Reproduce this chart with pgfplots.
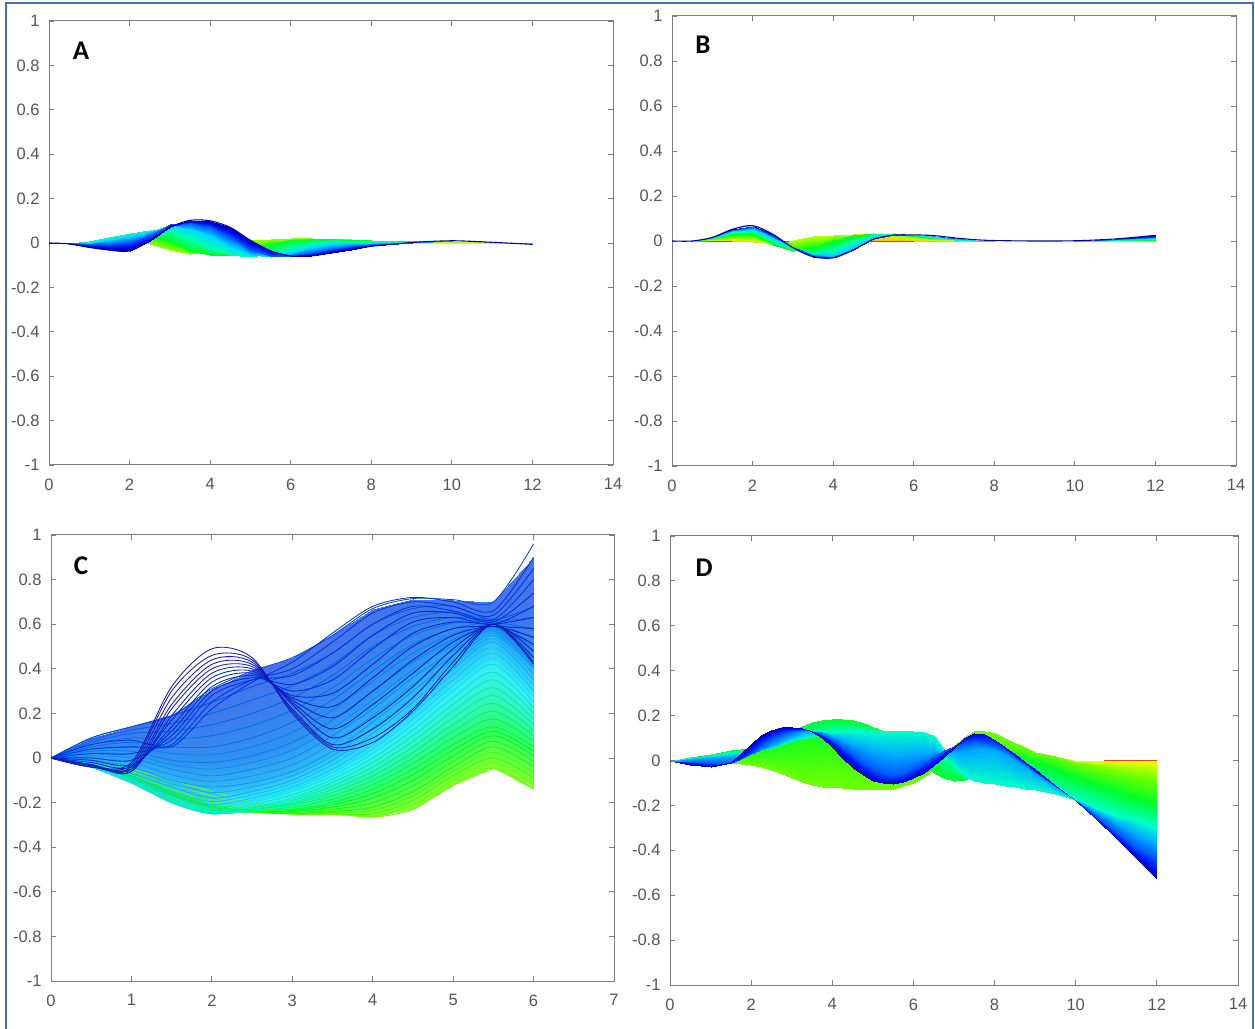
\documentclass[border=0pt]{standalone}
\usepackage{fontspec}
\setmainfont{Liberation Sans}
\newfontfamily\lab{Carlito}
\usepackage{pgfplots}
\pgfplotsset{compat=1.18}
\definecolor{ax}{RGB}{125,125,125}
\definecolor{tl}{RGB}{85,85,85}
\definecolor{g1}{RGB}{110,255,0}
\definecolor{g2}{RGB}{70,255,0}
\definecolor{g3}{RGB}{30,250,0}
\definecolor{g4}{RGB}{0,250,30}
\definecolor{g5}{RGB}{0,250,80}
\definecolor{g6}{RGB}{0,245,130}
\definecolor{c1}{RGB}{0,240,170}
\definecolor{c2}{RGB}{0,235,205}
\definecolor{c3}{RGB}{0,230,240}
\definecolor{c4}{RGB}{0,205,245}
\definecolor{c5}{RGB}{0,180,245}
\definecolor{l1}{RGB}{0,160,240}
\definecolor{l2}{RGB}{0,145,240}
\definecolor{l3}{RGB}{0,130,240}
\definecolor{l4}{RGB}{0,115,235}
\definecolor{l5}{RGB}{0,100,235}
\definecolor{l6}{RGB}{0,85,230}
\definecolor{l7}{RGB}{0,70,230}
\definecolor{b1}{RGB}{0,50,225}
\definecolor{b2}{RGB}{0,40,215}
\definecolor{b3}{RGB}{10,30,200}
\definecolor{b4}{RGB}{20,25,185}
\pgfplotsset{
  pan/.style={scale only axis, anchor=south west, axis line style={ax,line width=1pt},
    tick style={ax,line width=.8pt}, tick align=inside, major tick length=5pt,
    xmin=0, ymin=-1, ymax=1,
    ytick={-1,-0.8,-0.6,-0.4,-0.2,0,0.2,0.4,0.6,0.8,1},
    yticklabels={-1,-0.8,-0.6,-0.4,-0.2,0,0.2,0.4,0.6,0.8,1},
    tick label style={font=\fontsize{16.5}{17}\selectfont, text=tl},
    xticklabel style={yshift=-10pt}, yticklabel style={xshift=-6pt}},
  x14/.style={xmax=14, xtick={0,2,4,6,8,10,12,14}, xticklabels={0,2,4,6,8,10,12,14}},
  x7/.style={xmax=7, xtick={0,1,2,3,4,5,6,7}, xticklabels={0,1,2,3,4,5,6,7}},
  cl/.style={line width=.85pt, smooth, no markers},
  sf/.style={surf, shader=interp, no markers},
  lastl/.style={line width=1.1pt, smooth, no markers, color={rgb,255:red,0;green,0;blue,165}},
}
\begin{document}
\begin{tikzpicture}[x=1pt,y=1pt]
\path[use as bounding box] (0,0) rectangle (1255,1028);
\draw[line width=2pt,color={rgb,255:red,68;green,114;blue,180}] (6,-5) -- (6,1025) -- (1253,1025) -- (1253,-5);

% ---------- A
\begin{axis}[pan,x14,at={(49pt,563pt)},width=564pt,height=444pt,
  colormap={fa}{rgb255=(255,60,0) rgb255=(230,255,0) rgb255=(150,255,0) rgb255=(0,255,30) rgb255=(0,255,170) rgb255=(0,220,255) rgb255=(0,90,255) rgb255=(0,0,230) rgb255=(0,0,170)},
  point meta min=0, point meta max=8]
\addplot[sf, mesh/rows=9, mesh/cols=21, point meta={floor(\coordindex/21)}] table[row sep=\\,header=false]{
0 0\\.5 0\\1 0\\1.5 0\\2 0\\2.5 0\\3 0\\3.5 0\\4 0\\4.5 0\\5 0\\5.5 0\\6 0\\6.5 0\\7 0\\7.5 0\\8 0\\9 0\\10 0\\11 0\\12 0\\
0 0\\.5 0\\1 0\\1.5 .001\\2 .002\\2.5 0\\3 -.012\\3.5 -.02\\4 -.025\\4.5 -.02\\5 -.005\\5.5 .005\\6 .008\\6.5 .007\\7 .006\\7.5 .005\\8 .004\\9 .002\\10 .001\\11 .001\\12 0\\
0 0\\.5 0\\1 .002\\1.5 .006\\2 .006\\2.5 -.003\\3 -.03\\3.5 -.05\\4 -.04\\4.5 -.01\\5 .012\\5.5 .02\\6 .022\\6.5 .022\\7 .02\\7.5 .017\\8 .014\\9 .01\\10 .008\\11 .004\\12 0\\
0 0\\.5 .001\\1 .006\\1.5 .02\\2 .035\\2.5 .04\\3 .01\\3.5 -.035\\4 -.055\\4.5 -.055\\5 -.03\\5.5 -.005\\6 .015\\6.5 .02\\7 .018\\7.5 .015\\8 .012\\9 .008\\10 .008\\11 .004\\12 -.001\\
0 0\\.5 .002\\1 .008\\1.5 .025\\2 .045\\2.5 .06\\3 .055\\3.5 .02\\4 -.025\\4.5 -.055\\5 -.065\\5.5 -.05\\6 -.02\\6.5 0\\7 .01\\7.5 .01\\8 .008\\9 .006\\10 .008\\11 .004\\12 -.002\\
0 0\\.5 .001\\1 .002\\1.5 .012\\2 .03\\2.5 .055\\3 .08\\3.5 .065\\4 .03\\4.5 -.02\\5 -.055\\5.5 -.065\\6 -.045\\6.5 -.02\\7 -.005\\7.5 0\\8 .002\\9 .004\\10 .009\\11 .004\\12 -.003\\
0 0\\.5 -.001\\1 -.006\\1.5 -.005\\2 .005\\2.5 .035\\3 .085\\3.5 .09\\4 .07\\4.5 .025\\5 -.03\\5.5 -.058\\6 -.06\\6.5 -.045\\7 -.025\\7.5 -.012\\8 -.005\\9 .002\\10 .01\\11 .004\\12 -.004\\
0 0\\.5 -.003\\1 -.015\\1.5 -.022\\2 -.02\\2.5 .012\\3 .08\\3.5 .1\\4 .09\\4.5 .055\\5 .002\\5.5 -.04\\6 -.058\\6.5 -.055\\7 -.038\\7.5 -.022\\8 -.012\\9 .002\\10 .01\\11 .003\\12 -.005\\
0 0\\.5 -.004\\1 -.02\\1.5 -.032\\2 -.036\\2.5 .01\\3 .07\\3.5 .102\\4 .1\\4.5 .07\\5 .012\\5.5 -.035\\6 -.058\\6.5 -.058\\7 -.045\\7.5 -.03\\8 -.015\\9 .002\\10 .01\\11 .003\\12 -.006\\
};
\addplot[lastl] table[row sep=\\,header=false]{0 0\\.5 -.004\\1 -.02\\1.5 -.032\\2 -.036\\2.5 .01\\3 .07\\3.5 .102\\4 .1\\4.5 .07\\5 .012\\5.5 -.035\\6 -.058\\6.5 -.058\\7 -.045\\7.5 -.03\\8 -.015\\9 .002\\10 .01\\11 .003\\12 -.006\\};
\end{axis}
\node[font=\lab\bfseries\fontsize{27}{27}\selectfont,text=black] at (81,977) {A};

% ---------- B
\begin{axis}[pan,x14,at={(672pt,562pt)},width=564pt,height=450pt,
  colormap={fb}{rgb255=(255,40,0) rgb255=(255,200,0) rgb255=(190,255,0) rgb255=(0,255,20) rgb255=(0,255,170) rgb255=(0,210,255) rgb255=(0,70,255) rgb255=(0,0,190)},
  point meta min=0, point meta max=7]
\addplot[sf, mesh/rows=8, mesh/cols=21, point meta={floor(\coordindex/21)}] table[row sep=\\,header=false]{
0 0\\.5 0\\1 0\\1.5 0\\2 0\\2.5 0\\3 0\\3.5 0\\4 0\\4.5 0\\5 0\\5.5 0\\6 0\\6.5 0\\7 0\\7.5 0\\8 0\\9 0\\10 0\\11 0\\12 0\\
0 0\\.5 0\\1 .003\\1.5 .002\\2 -.003\\2.5 -.01\\3 -.006\\3.5 .004\\4 .008\\4.5 .008\\5 .006\\5.5 .003\\6 .001\\6.5 .001\\7 .001\\7.5 0\\8 0\\9 0\\10 0\\11 0\\12 0\\
0 0\\.5 0\\1 .006\\1.5 .01\\2 .004\\2.5 -.018\\3 .004\\3.5 .02\\4 .028\\4.5 .03\\5 .03\\5.5 .02\\6 .012\\6.5 .006\\7 .004\\7.5 .002\\8 .001\\9 0\\10 0\\11 .001\\12 .002\\
0 0\\.5 0\\1 .012\\1.5 .03\\2 .03\\2.5 -.02\\3 -.045\\3.5 -.03\\4 0\\4.5 .025\\5 .035\\5.5 .03\\6 .02\\6.5 .012\\7 .005\\7.5 .002\\8 0\\9 0\\10 .001\\11 .003\\12 .005\\
0 0\\.5 0\\1 .014\\1.5 .04\\2 .045\\2.5 0\\3 -.035\\3.5 -.058\\4 -.04\\4.5 0\\5 .03\\5.5 .035\\6 .025\\6.5 .015\\7 .006\\7.5 .001\\8 -.001\\9 0\\10 .001\\11 .004\\12 .008\\
0 0\\.5 0\\1 .015\\1.5 .045\\2 .055\\2.5 .015\\3 -.03\\3.5 -.06\\4 -.065\\4.5 -.03\\5 .015\\5.5 .032\\6 .028\\6.5 .02\\7 .009\\7.5 .003\\8 0\\9 0\\10 .002\\11 .006\\12 .012\\
0 0\\.5 0\\1 .016\\1.5 .05\\2 .065\\2.5 .022\\3 -.028\\3.5 -.066\\4 -.07\\4.5 -.035\\5 .008\\5.5 .028\\6 .028\\6.5 .023\\7 .012\\7.5 .004\\8 .001\\9 0\\10 .002\\11 .008\\12 .018\\
0 0\\.5 0\\1 .016\\1.5 .052\\2 .068\\2.5 .03\\3 -.03\\3.5 -.07\\4 -.075\\4.5 -.04\\5 .008\\5.5 .026\\6 .027\\6.5 .024\\7 .014\\7.5 .006\\8 .002\\9 0\\10 .001\\11 .009\\12 .025\\
};
\addplot[lastl] table[row sep=\\,header=false]{0 0\\.5 0\\1 .016\\1.5 .052\\2 .068\\2.5 .03\\3 -.03\\3.5 -.07\\4 -.075\\4.5 -.04\\5 .008\\5.5 .026\\6 .027\\6.5 .024\\7 .014\\7.5 .006\\8 .002\\9 0\\10 .001\\11 .009\\12 .025\\};
\end{axis}
\node[font=\lab\bfseries\fontsize{27}{27}\selectfont,text=black] at (703,983) {B};

% ---------- C
\begin{axis}[pan,x7,at={(51pt,47pt)},width=563pt,height=446pt,
  colormap={fc}{rgb255=(130,255,50) rgb255=(50,250,100) rgb255=(50,245,185) rgb255=(60,235,245) rgb255=(50,180,245) rgb255=(50,145,240) rgb255=(60,125,235) rgb255=(70,115,235)},
  point meta min=0, point meta max=7]
\addplot[sf, mesh/rows=8, mesh/cols=13, point meta={floor(\coordindex/13)}] table[row sep=\\,header=false]{
0 0\\.5 -.02\\1 -.05\\1.5 -.1\\2 -.15\\2.5 -.2\\3 -.25\\3.5 -.25\\4 -.265\\4.5 -.23\\5 -.12\\5.5 -.045\\6 -.14\\
0 0\\.5 -.03\\1 -.09\\1.5 -.17\\2 -.23\\2.5 -.24\\3 -.23\\3.5 -.2\\4 -.14\\4.5 -.05\\5 .06\\5.5 .14\\6 .05\\
0 0\\.5 -.04\\1 -.11\\1.5 -.2\\2 -.25\\2.5 -.23\\3 -.2\\3.5 -.14\\4 -.06\\4.5 .05\\5 .18\\5.5 .28\\6 .15\\
0 0\\.5 -.04\\1 -.11\\1.5 -.2\\2 -.24\\2.5 -.2\\3 -.15\\3.5 -.08\\4 .02\\4.5 .15\\5 .3\\5.5 .42\\6 .25\\
0 0\\.5 -.01\\1 -.04\\1.5 -.1\\2 -.13\\2.5 -.11\\3 -.06\\3.5 .03\\4 .16\\4.5 .3\\5 .44\\5.5 .55\\6 .4\\
0 0\\.5 .03\\1 .03\\1.5 -.01\\2 -.02\\2.5 .01\\3 .07\\3.5 .17\\4 .3\\4.5 .43\\5 .53\\5.5 .59\\6 .45\\
0 0\\.5 .07\\1 .11\\1.5 .12\\2 .15\\2.5 .2\\3 .27\\3.5 .37\\4 .5\\4.5 .59\\5 .63\\5.5 .61\\6 .58\\
0 0\\.5 .09\\1 .14\\1.5 .19\\2 .31\\2.5 .39\\3 .45\\3.5 .55\\4 .67\\4.5 .715\\5 .71\\5.5 .7\\6 .9\\
};
\addplot[cl,g1] table[row sep=\\,header=false]{0 0\\.5 -.02\\1 -.05\\1.5 -.1\\2 -.15\\2.5 -.2\\3 -.25\\3.5 -.25\\4 -.265\\4.5 -.23\\5 -.12\\5.5 -.045\\6 -.14\\};
\addplot[cl,g1] table[row sep=\\,header=false]{0 0\\.5 -.025\\1 -.06\\1.5 -.115\\2 -.17\\2.5 -.22\\3 -.25\\3.5 -.25\\4 -.26\\4.5 -.21\\5 -.1\\5.5 -.02\\6 -.115\\};
\addplot[cl,g2] table[row sep=\\,header=false]{0 0\\.5 -.03\\1 -.07\\1.5 -.13\\2 -.19\\2.5 -.24\\3 -.25\\3.5 -.25\\4 -.25\\4.5 -.19\\5 -.08\\5.5 0\\6 -.09\\};
\addplot[cl,g2] table[row sep=\\,header=false]{0 0\\.5 -.03\\1 -.075\\1.5 -.14\\2 -.2\\2.5 -.24\\3 -.25\\3.5 -.245\\4 -.235\\4.5 -.17\\5 -.06\\5.5 .025\\6 -.065\\};
\addplot[cl,g3] table[row sep=\\,header=false]{0 0\\.5 -.03\\1 -.08\\1.5 -.15\\2 -.21\\2.5 -.24\\3 -.25\\3.5 -.24\\4 -.22\\4.5 -.15\\5 -.04\\5.5 .05\\6 -.04\\};
\addplot[cl,g3] table[row sep=\\,header=false]{0 0\\.5 -.03\\1 -.08\\1.5 -.155\\2 -.215\\2.5 -.24\\3 -.245\\3.5 -.23\\4 -.2\\4.5 -.125\\5 -.015\\5.5 .075\\6 -.015\\};
\addplot[cl,g4] table[row sep=\\,header=false]{0 0\\.5 -.03\\1 -.08\\1.5 -.16\\2 -.22\\2.5 -.24\\3 -.24\\3.5 -.22\\4 -.18\\4.5 -.1\\5 .01\\5.5 .1\\6 .01\\};
\addplot[cl,g4] table[row sep=\\,header=false]{0 0\\.5 -.03\\1 -.085\\1.5 -.165\\2 -.225\\2.5 -.24\\3 -.235\\3.5 -.21\\4 -.16\\4.5 -.075\\5 .035\\5.5 .12\\6 .03\\};
\addplot[cl,g5] table[row sep=\\,header=false]{0 0\\.5 -.03\\1 -.09\\1.5 -.17\\2 -.23\\2.5 -.24\\3 -.23\\3.5 -.2\\4 -.14\\4.5 -.05\\5 .06\\5.5 .14\\6 .05\\};
\addplot[cl,g5] table[row sep=\\,header=false]{0 0\\.5 -.035\\1 -.095\\1.5 -.18\\2 -.235\\2.5 -.235\\3 -.22\\3.5 -.185\\4 -.12\\4.5 -.025\\5 .09\\5.5 .175\\6 .075\\};
\addplot[cl,g6] table[row sep=\\,header=false]{0 0\\.5 -.04\\1 -.1\\1.5 -.19\\2 -.24\\2.5 -.23\\3 -.21\\3.5 -.17\\4 -.1\\4.5 0\\5 .12\\5.5 .21\\6 .1\\};
\addplot[cl,g6] table[row sep=\\,header=false]{0 0\\.5 -.04\\1 -.105\\1.5 -.195\\2 -.245\\2.5 -.23\\3 -.205\\3.5 -.155\\4 -.08\\4.5 .025\\5 .15\\5.5 .245\\6 .125\\};
\addplot[cl,c1] table[row sep=\\,header=false]{0 0\\.5 -.04\\1 -.11\\1.5 -.2\\2 -.25\\2.5 -.23\\3 -.2\\3.5 -.14\\4 -.06\\4.5 .05\\5 .18\\5.5 .28\\6 .15\\};
\addplot[cl,c1] table[row sep=\\,header=false]{0 0\\.5 -.04\\1 -.11\\1.5 -.2\\2 -.25\\2.5 -.225\\3 -.19\\3.5 -.125\\4 -.04\\4.5 .075\\5 .21\\5.5 .315\\6 .175\\};
\addplot[cl,c2] table[row sep=\\,header=false]{0 0\\.5 -.04\\1 -.11\\1.5 -.2\\2 -.25\\2.5 -.22\\3 -.18\\3.5 -.11\\4 -.02\\4.5 .1\\5 .24\\5.5 .35\\6 .2\\};
\addplot[cl,c2] table[row sep=\\,header=false]{0 0\\.5 -.04\\1 -.11\\1.5 -.2\\2 -.245\\2.5 -.21\\3 -.165\\3.5 -.095\\4 0\\4.5 .125\\5 .27\\5.5 .385\\6 .225\\};
\addplot[cl,c3] table[row sep=\\,header=false]{0 0\\.5 -.04\\1 -.11\\1.5 -.2\\2 -.24\\2.5 -.2\\3 -.15\\3.5 -.08\\4 .02\\4.5 .15\\5 .3\\5.5 .42\\6 .25\\};
\addplot[cl,c3] table[row sep=\\,header=false]{0 0\\.5 -.035\\1 -.1\\1.5 -.185\\2 -.225\\2.5 -.19\\3 -.14\\3.5 -.065\\4 .04\\4.5 .175\\5 .325\\5.5 .445\\6 .275\\};
\addplot[cl,c4] table[row sep=\\,header=false]{0 0\\.5 -.03\\1 -.09\\1.5 -.17\\2 -.21\\2.5 -.18\\3 -.13\\3.5 -.05\\4 .06\\4.5 .2\\5 .35\\5.5 .47\\6 .3\\};
\addplot[cl,c4] table[row sep=\\,header=false]{0 0\\.5 -.025\\1 -.08\\1.5 -.15\\2 -.195\\2.5 -.165\\3 -.115\\3.5 -.03\\4 .085\\4.5 .225\\5 .375\\5.5 .495\\6 .325\\};
\addplot[cl,c5] table[row sep=\\,header=false]{0 0\\.5 -.02\\1 -.07\\1.5 -.13\\2 -.18\\2.5 -.15\\3 -.1\\3.5 -.01\\4 .11\\4.5 .25\\5 .4\\5.5 .52\\6 .35\\};
\addplot[cl,c5] table[row sep=\\,header=false]{0 0\\.5 -.015\\1 -.055\\1.5 -.115\\2 -.155\\2.5 -.13\\3 -.08\\3.5 .01\\4 .135\\4.5 .275\\5 .42\\5.5 .535\\6 .375\\};
\addplot[cl,l1] table[row sep=\\,header=false]{0 0\\.5 -.01\\1 -.04\\1.5 -.1\\2 -.13\\2.5 -.11\\3 -.06\\3.5 .03\\4 .16\\4.5 .3\\5 .44\\5.5 .55\\6 .4\\};
\addplot[cl,l1] table[row sep=\\,header=false]{0 0\\.5 0\\1 -.02\\1.5 -.075\\2 -.105\\2.5 -.08\\3 -.03\\3.5 .065\\4 .19\\4.5 .33\\5 .46\\5.5 .56\\6 .41\\};
\addplot[cl,l2] table[row sep=\\,header=false]{0 0\\.5 .01\\1 0\\1.5 -.05\\2 -.08\\2.5 -.05\\3 0\\3.5 .1\\4 .22\\4.5 .36\\5 .48\\5.5 .57\\6 .42\\};
\addplot[cl,l2] table[row sep=\\,header=false]{0 0\\.5 .02\\1 .015\\1.5 -.03\\2 -.05\\2.5 -.02\\3 .035\\3.5 .135\\4 .26\\4.5 .395\\5 .505\\5.5 .58\\6 .435\\};
\addplot[cl,l3] table[row sep=\\,header=false]{0 0\\.5 .03\\1 .03\\1.5 -.01\\2 -.02\\2.5 .01\\3 .07\\3.5 .17\\4 .3\\4.5 .43\\5 .53\\5.5 .59\\6 .45\\};
\addplot[cl,l3] table[row sep=\\,header=false]{0 0\\.5 .04\\1 .05\\1.5 .02\\2 .015\\2.5 .05\\3 .115\\3.5 .215\\4 .345\\4.5 .47\\5 .555\\5.5 .595\\6 .475\\};
\addplot[cl,l4] table[row sep=\\,header=false]{0 0\\.5 .05\\1 .07\\1.5 .05\\2 .05\\2.5 .09\\3 .16\\3.5 .26\\4 .39\\4.5 .51\\5 .58\\5.5 .6\\6 .5\\};
\addplot[cl,l4] table[row sep=\\,header=false]{0 0\\.5 .06\\1 .09\\1.5 .085\\2 .1\\2.5 .145\\3 .215\\3.5 .315\\4 .445\\4.5 .55\\5 .605\\5.5 .605\\6 .54\\};
\addplot[cl,l5] table[row sep=\\,header=false]{0 0\\.5 .07\\1 .11\\1.5 .12\\2 .15\\2.5 .2\\3 .27\\3.5 .37\\4 .5\\4.5 .59\\5 .63\\5.5 .61\\6 .58\\};
\addplot[cl,l5] table[row sep=\\,header=false]{0 0\\.5 .08\\1 .125\\1.5 .155\\2 .2\\2.5 .26\\3 .325\\3.5 .42\\4 .55\\4.5 .63\\5 .655\\5.5 .615\\6 .63\\};
\addplot[cl,l6] table[row sep=\\,header=false]{0 0\\.5 .09\\1 .14\\1.5 .19\\2 .25\\2.5 .32\\3 .38\\3.5 .47\\4 .6\\4.5 .67\\5 .68\\5.5 .62\\6 .68\\};
\addplot[cl,l7] table[row sep=\\,header=false]{0 0\\.5 .09\\1 .14\\1.5 .19\\2 .31\\2.5 .39\\3 .45\\3.5 .55\\4 .67\\4.5 .715\\5 .71\\5.5 .7\\6 .96\\};
\addplot[cl,b1] table[row sep=\\,header=false]{0 0\\.5 .06\\1 .08\\1.5 .05\\2 .22\\2.5 .34\\3 .43\\3.5 .56\\4 .68\\4.5 .72\\5 .7\\5.5 .66\\6 .9\\};
\addplot[cl,b1] table[row sep=\\,header=false]{0 0\\.5 .04\\1 .05\\1.5 .06\\2 .25\\2.5 .35\\3 .4\\3.5 .52\\4 .65\\4.5 .7\\5 .68\\5.5 .64\\6 .85\\};
\addplot[cl,b1] table[row sep=\\,header=false]{0 0\\.5 .02\\1 .02\\1.5 .08\\2 .28\\2.5 .35\\3 .37\\3.5 .47\\4 .6\\4.5 .68\\5 .66\\5.5 .62\\6 .8\\};
\addplot[cl,b2] table[row sep=\\,header=false]{0 0\\.5 0\\1 -.01\\1.5 .1\\2 .3\\2.5 .36\\3 .33\\3.5 .41\\4 .55\\4.5 .65\\5 .65\\5.5 .61\\6 .74\\};
\addplot[cl,b2] table[row sep=\\,header=false]{0 0\\.5 -.01\\1 -.03\\1.5 .12\\2 .32\\2.5 .37\\3 .3\\3.5 .35\\4 .49\\4.5 .61\\5 .63\\5.5 .6\\6 .68\\};
\addplot[cl,b2] table[row sep=\\,header=false]{0 0\\.5 -.02\\1 -.04\\1.5 .14\\2 .34\\2.5 .38\\3 .28\\3.5 .29\\4 .42\\4.5 .56\\5 .61\\5.5 .6\\6 .63\\};
\addplot[cl,b3] table[row sep=\\,header=false]{0 0\\.5 -.03\\1 -.05\\1.5 .17\\2 .36\\2.5 .39\\3 .27\\3.5 .23\\4 .36\\4.5 .5\\5 .58\\5.5 .59\\6 .58\\};
\addplot[cl,b3] table[row sep=\\,header=false]{0 0\\.5 -.03\\1 -.06\\1.5 .19\\2 .38\\2.5 .4\\3 .26\\3.5 .18\\4 .3\\4.5 .44\\5 .55\\5.5 .59\\6 .54\\};
\addplot[cl,b3] table[row sep=\\,header=false]{0 0\\.5 -.03\\1 -.06\\1.5 .22\\2 .4\\2.5 .41\\3 .25\\3.5 .13\\4 .24\\4.5 .38\\5 .52\\5.5 .59\\6 .51\\};
\addplot[cl,b4] table[row sep=\\,header=false]{0 0\\.5 -.035\\1 -.05\\1.5 .24\\2 .42\\2.5 .42\\3 .24\\3.5 .09\\4 .18\\4.5 .32\\5 .49\\5.5 .6\\6 .48\\};
\addplot[cl,b4] table[row sep=\\,header=false]{0 0\\.5 -.04\\1 -.04\\1.5 .27\\2 .44\\2.5 .43\\3 .22\\3.5 .06\\4 .13\\4.5 .27\\5 .46\\5.5 .6\\6 .45\\};
\addplot[cl,b4] table[row sep=\\,header=false]{0 0\\.5 -.04\\1 -.03\\1.5 .3\\2 .46\\2.5 .44\\3 .21\\3.5 .05\\4 .09\\4.5 .22\\5 .43\\5.5 .6\\6 .43\\};
\addplot[cl,b4] table[row sep=\\,header=false]{0 0\\.5 -.04\\1 -.02\\1.5 .32\\2 .49\\2.5 .45\\3 .2\\3.5 .04\\4 .07\\4.5 .21\\5 .41\\5.5 .6\\6 .42\\};
\end{axis}
\node[font=\lab\bfseries\fontsize{27}{27}\selectfont,text=black] at (81,462) {C};

% ---------- D
\begin{axis}[pan,x14,at={(670pt,43pt)},width=568pt,height=449pt,
  colormap={fd}{rgb255=(255,60,0) rgb255=(240,255,0) rgb255=(110,255,0) rgb255=(0,255,40) rgb255=(0,255,200) rgb255=(0,170,255) rgb255=(0,90,255) rgb255=(0,20,240) rgb255=(0,0,190)},
  point meta min=0, point meta max=8]
\addplot[sf, mesh/rows=9, mesh/cols=40, point meta={floor(\coordindex/40)}] table[row sep=\\,header=false]{
0 0\\.5 0\\1 0\\1.5 0\\1.75 0\\2 0\\2.25 0\\2.5 0\\2.75 0\\3 0\\3.25 0\\3.5 0\\3.75 0\\4 0\\4.25 0\\4.5 0\\4.75 0\\5 0\\5.25 0\\5.5 0\\5.75 0\\6 0\\6.25 0\\6.5 0\\6.75 0\\7 0\\7.25 0\\7.5 0\\7.75 0\\8 0\\8.25 0\\8.5 0\\8.75 0\\9 0\\9.5 0\\10 0\\10.5 0\\11 0\\11.5 0\\12 0\\
0 0\\.5 0\\1 0\\1.5 -.003\\1.75 -.005\\2 -.008\\2.25 -.011\\2.5 -.015\\2.75 -.022\\3 -.03\\3.25 -.038\\3.5 -.045\\3.75 -.05\\4 -.055\\4.25 -.056\\4.5 -.055\\4.75 -.052\\5 -.05\\5.25 -.047\\5.5 -.045\\5.75 -.042\\6 -.04\\6.25 -.035\\6.5 -.025\\6.75 -.01\\7 .01\\7.25 .03\\7.5 .045\\7.75 .052\\8 .05\\8.25 .045\\8.5 .036\\8.75 .027\\9 .018\\9.5 .005\\10 0\\10.5 -.001\\11 -.002\\11.5 -.003\\12 -.004\\
0 0\\.5 0\\1 0\\1.5 -.01\\1.75 -.014\\2 -.02\\2.25 -.03\\2.5 -.043\\2.75 -.06\\3 -.078\\3.25 -.095\\3.5 -.108\\3.75 -.116\\4 -.12\\4.25 -.124\\4.5 -.126\\4.75 -.127\\5 -.127\\5.25 -.127\\5.5 -.125\\5.75 -.115\\6 -.1\\6.25 -.075\\6.5 -.04\\6.75 .01\\7 .065\\7.25 .105\\7.5 .13\\7.75 .133\\8 .122\\8.25 .1\\8.5 .078\\8.75 .058\\9 .04\\9.5 .018\\10 -.01\\10.5 -.03\\11 -.05\\11.5 -.07\\12 -.09\\
0 0\\.5 .015\\1 .03\\1.5 .045\\1.75 .05\\2 .055\\2.25 .07\\2.5 .09\\2.75 .112\\3 .135\\3.25 .155\\3.5 .172\\3.75 .182\\4 .186\\4.25 .186\\4.5 .18\\4.75 .168\\5 .15\\5.25 .13\\5.5 .105\\5.75 .07\\6 .03\\6.25 -.015\\6.5 -.055\\6.75 -.08\\7 -.09\\7.25 -.085\\7.5 -.07\\7.75 -.05\\8 -.025\\8.25 0\\8.5 .015\\8.75 .01\\9 -.005\\9.5 -.04\\10 -.08\\10.5 -.11\\11 -.14\\11.5 -.17\\12 -.2\\
0 0\\.5 .012\\1 .025\\1.5 .035\\1.75 .04\\2 .04\\2.25 .045\\2.5 .055\\2.75 .07\\3 .085\\3.25 .095\\3.5 .105\\3.75 .115\\4 .122\\4.25 .128\\4.5 .13\\4.75 .13\\5 .13\\5.25 .13\\5.5 .13\\5.75 .132\\6 .133\\6.25 .128\\6.5 .11\\6.75 .05\\7 -.02\\7.25 -.07\\7.5 -.09\\7.75 -.098\\8 -.105\\8.25 -.112\\8.5 -.12\\8.75 -.125\\9 -.13\\9.5 -.15\\10 -.175\\10.5 -.21\\11 -.245\\11.5 -.27\\12 -.3\\
0 0\\.5 .005\\1 .012\\1.5 .02\\1.75 .025\\2 .03\\2.25 .045\\2.5 .065\\2.75 .09\\3 .11\\3.25 .125\\3.5 .13\\3.75 .125\\4 .11\\4.25 .09\\4.5 .07\\4.75 .055\\5 .04\\5.25 .028\\5.5 .022\\5.75 .025\\6 .03\\6.25 .035\\6.5 .04\\6.75 .04\\7 .04\\7.25 .04\\7.5 .045\\7.75 .05\\8 .045\\8.25 .025\\8.5 0\\8.75 -.03\\9 -.06\\9.5 -.12\\10 -.18\\10.5 -.23\\11 -.28\\11.5 -.33\\12 -.37\\
0 0\\.5 -.005\\1 -.01\\1.5 -.01\\1.75 .005\\2 .03\\2.25 .065\\2.5 .095\\2.75 .12\\3 .13\\3.25 .135\\3.5 .13\\3.75 .115\\4 .09\\4.25 .06\\4.5 .025\\4.75 -.01\\5 -.035\\5.25 -.055\\5.5 -.065\\5.75 -.055\\6 -.035\\6.25 -.01\\6.5 .02\\6.75 .045\\7 .065\\7.25 .08\\7.5 .085\\7.75 .08\\8 .07\\8.25 .045\\8.5 .015\\8.75 -.015\\9 -.05\\9.5 -.115\\10 -.18\\10.5 -.25\\11 -.32\\11.5 -.39\\12 -.44\\
0 0\\.5 -.01\\1 -.02\\1.5 -.012\\1.75 .015\\2 .05\\2.25 .09\\2.5 .118\\2.75 .135\\3 .142\\3.25 .14\\3.5 .13\\3.75 .11\\4 .08\\4.25 .04\\4.5 0\\4.75 -.04\\5 -.068\\5.25 -.085\\5.5 -.092\\5.75 -.082\\6 -.06\\6.25 -.035\\6.5 -.005\\6.75 .03\\7 .065\\7.25 .095\\7.5 .11\\7.75 .11\\8 .09\\8.25 .06\\8.5 .03\\8.75 -.005\\9 -.04\\9.5 -.11\\10 -.18\\10.5 -.26\\11 -.34\\11.5 -.42\\12 -.49\\
0 0\\.5 -.018\\1 -.027\\1.5 -.007\\1.75 .032\\2 .073\\2.25 .113\\2.5 .135\\2.75 .147\\3 .15\\3.25 .143\\3.5 .125\\3.75 .098\\4 .062\\4.25 .012\\4.5 -.033\\4.75 -.066\\5 -.09\\5.25 -.1\\5.5 -.103\\5.75 -.095\\6 -.078\\6.25 -.055\\6.5 -.022\\6.75 .015\\7 .055\\7.25 .1\\7.5 .122\\7.75 .118\\8 .09\\8.25 .055\\8.5 .022\\8.75 -.01\\9 -.045\\9.5 -.11\\10 -.18\\10.5 -.26\\11 -.345\\11.5 -.44\\12 -.53\\
};
\addplot[line width=.9pt,color={rgb,255:red,235;green,70;blue,20},no markers] coordinates {(10.7,0) (12,0)};
\end{axis}
\node[font=\lab\bfseries\fontsize{27}{27}\selectfont,text=black] at (704,460) {D};
\end{tikzpicture}
\end{document}
